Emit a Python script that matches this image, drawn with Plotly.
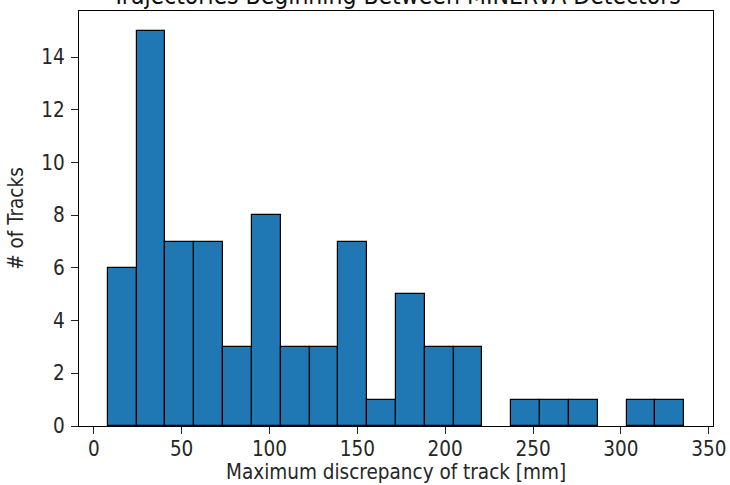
import plotly.graph_objects as go

# Histogram bin edges (mm) and counts
bin_edges = [8.0, 24.4, 40.8, 57.2, 73.6, 90.0, 106.4, 122.8, 139.2, 155.6, 172.0,
             188.4, 204.8, 221.2, 237.6, 254.0, 270.4, 286.8, 303.2, 319.6, 336.0]
counts = [6, 15, 7, 7, 3, 8, 3, 3, 7, 1, 5, 3, 3, 0, 1, 1, 1, 0, 1, 1]
x_ticks = [0, 50, 100, 150, 200, 250, 300, 350]
y_ticks = [0, 2, 4, 6, 8, 10, 12, 14]
title_text = "Trajectories Beginning Between MINERvA Detectors"
x_label = "Maximum discrepancy of track [mm]"
y_label = "# of Tracks"

lefts = bin_edges[:-1]
rights = bin_edges[1:]
centers = [(a + b) / 2 for a, b in zip(lefts, rights)]
widths = [b - a for a, b in zip(lefts, rights)]
heights = [c if c > 0 else None for c in counts]

FONT = "DejaVu Sans Condensed, DejaVu Sans"
TXT = "#262626"
fig = go.Figure()
fig.add_trace(go.Bar(
    x=centers, y=heights, width=widths,
    marker=dict(color="#1f77b4", line=dict(color="black", width=1.2)),
    hoverinfo="skip",
))

span = bin_edges[-1] - bin_edges[0]
xr = [bin_edges[0] - 0.05 * span, bin_edges[-1] + 0.05 * span]
yr = [0, max(counts) * 1.05]

axis_common = dict(
    showline=True, linecolor="black", linewidth=1.2, mirror=True,
    ticks="outside", ticklen=7, tickwidth=1.2, tickcolor="#222",
    showgrid=False, zeroline=False, automargin=False,
    tickfont=dict(family=FONT, size=20.5, color=TXT),
)
fig.update_layout(
    width=730, height=485,
    margin=dict(l=79, r=17, t=11, b=59),
    paper_bgcolor="white", plot_bgcolor="white",
    showlegend=False, bargap=0,
    font=dict(family=FONT, color=TXT),
    xaxis=dict(range=xr, tickvals=x_ticks, ticktext=[str(v) for v in x_ticks],
               ticklabelstandoff=-3,
               **axis_common),
    yaxis=dict(range=yr, tickvals=y_ticks, ticktext=[str(v) for v in y_ticks],
               ticklabelstandoff=2,
               title=dict(text=y_label, font=dict(family=FONT, size=20.5, color=TXT), standoff=12),
               **axis_common),
    annotations=[
        dict(text=title_text, xref="paper", yref="paper", x=0.5, y=1,
             xanchor="center", yanchor="bottom", yshift=-1, showarrow=False,
             font=dict(family=FONT, size=24.5, color="#111")),
        dict(text=x_label, xref="paper", yref="paper", x=0.5, y=0,
             xanchor="center", yanchor="bottom", yshift=-58.5, showarrow=False,
             borderpad=0, font=dict(family=FONT, size=20.5, color=TXT)),
    ],
)
fig.write_html("out.html")
